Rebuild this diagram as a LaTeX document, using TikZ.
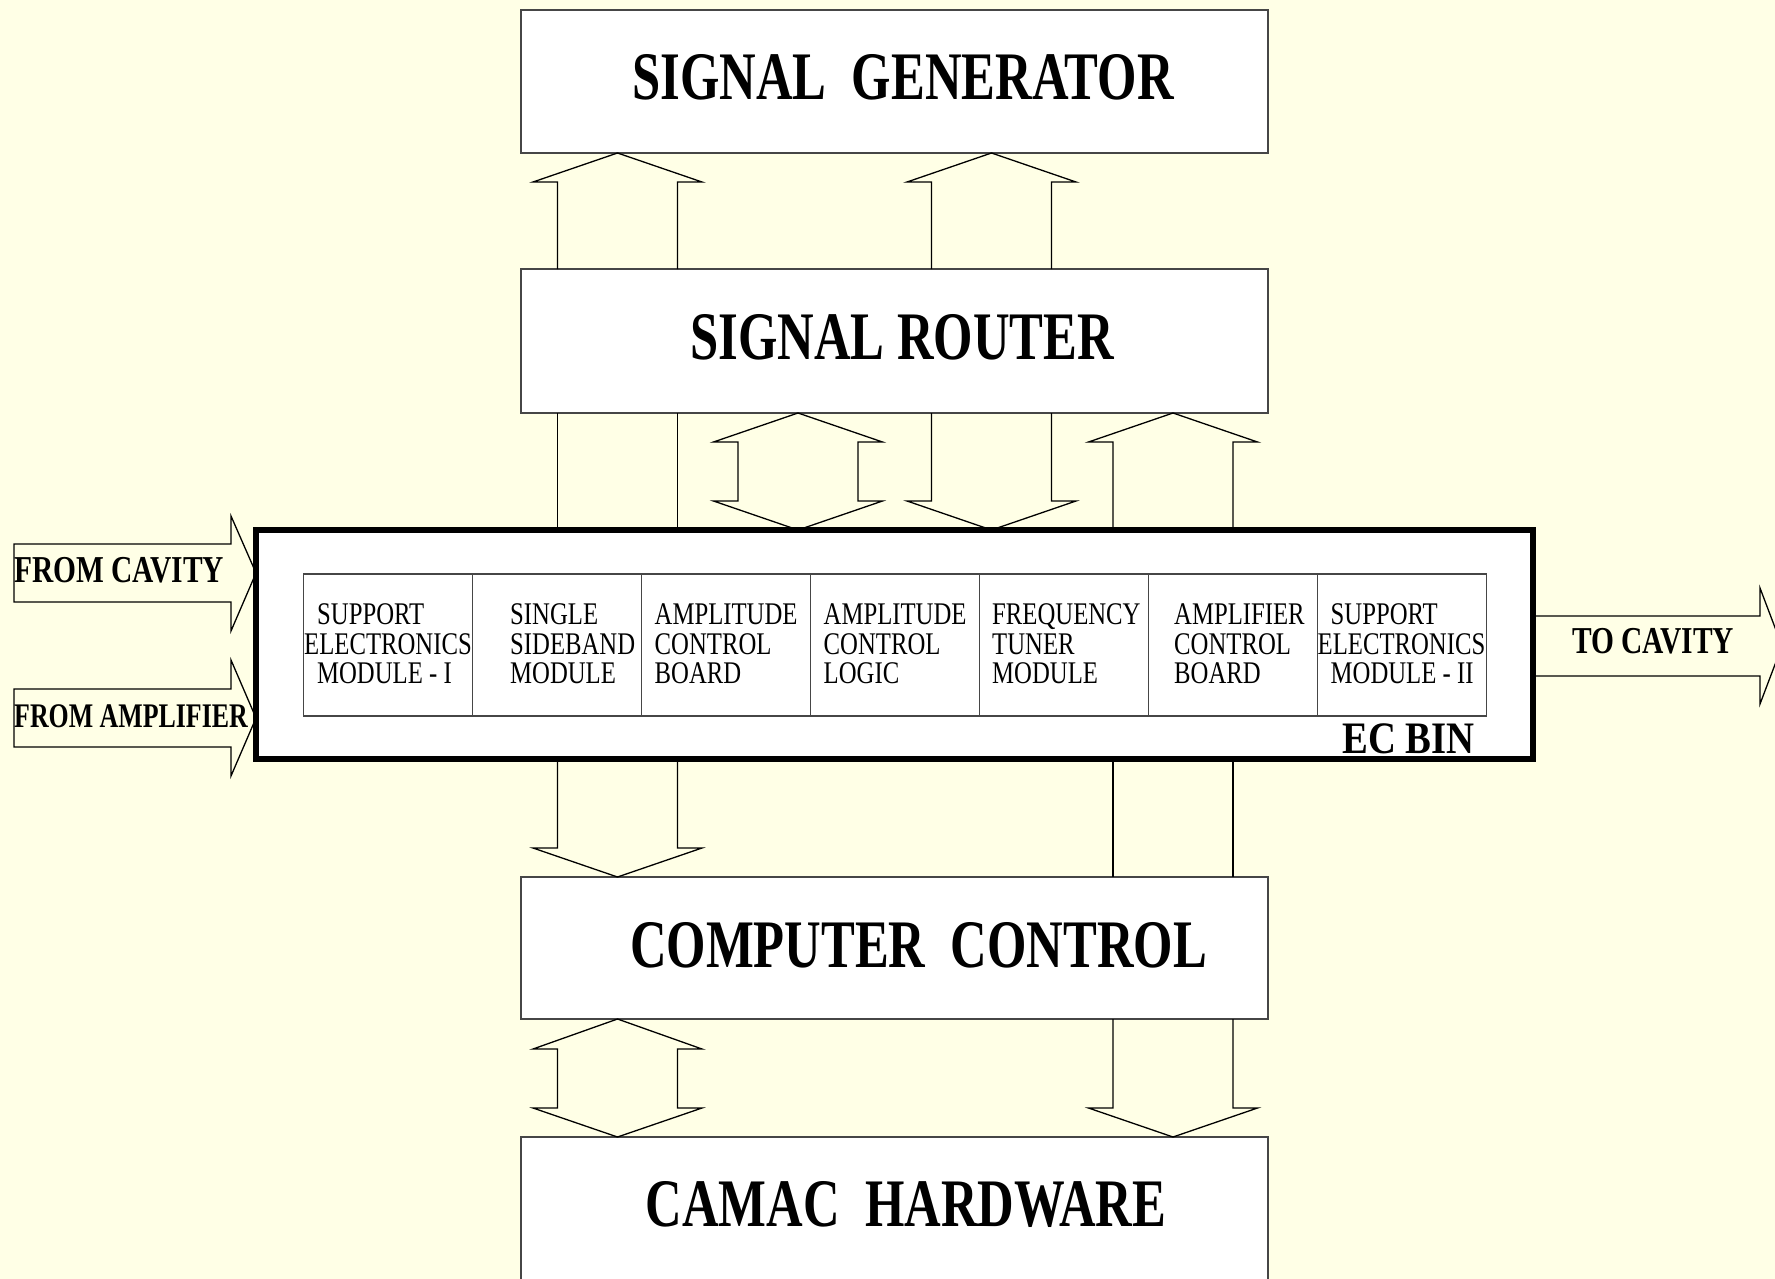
\documentclass[tikz,border=0pt]{standalone}
\usepackage{fontspec}
\setmainfont{Liberation Serif}
\usepackage{graphicx}
\definecolor{paper}{RGB}{255,255,230}
\definecolor{frame}{RGB}{70,70,70}
% horizontally condensed text
\newcommand{\squeeze}[2]{\scalebox{#1}[1]{#2}}
% stacked, left-aligned module captions (first baseline = node base)
\newcommand{\modlines}[1]{\scalebox{0.785}[1]{\begin{tabular}[t]{@{}l@{}}#1\end{tabular}}}
% single-headed block arrow: centre x, tip anchor, head-base y, tail anchor
\newcommand{\blockarr}[4]{%
  \draw[blockarrow] (#1-60,0 |- #4) -- (#1-60,#3) -- (#1-84.5,#3) -- (#1,0 |- #2)
    -- (#1+84.5,#3) -- (#1+60,#3) -- (#1+60,0 |- #4);}
% double-headed block arrow: centre x, upper tip anchor, upper head-base y, lower tip anchor, lower head-base y
\newcommand{\dblarr}[5]{%
  \draw[blockarrow] (#1-60,#3) -- (#1-84.5,#3) -- (#1,0 |- #2) -- (#1+84.5,#3) -- (#1+60,#3)
    -- (#1+60,#5) -- (#1+84.5,#5) -- (#1,0 |- #4) -- (#1-84.5,#5) -- (#1-60,#5) -- cycle;}

\begin{document}
\begin{tikzpicture}[x=1pt,y=-1pt,
  unit/.style={draw=frame, line width=1.6pt, fill=white, inner sep=0pt, outer sep=0pt, minimum width=747pt},
  module/.style={draw=frame, line width=1.5pt, fill=white, inner sep=0pt, outer sep=0pt, minimum width=169pt, minimum height=142pt},
  bin/.style={draw=black, line width=5.5pt, fill=white, inner sep=0pt, outer sep=0pt, minimum width=1277pt, minimum height=229pt},
  blockarrow/.style={draw=black, line width=1.3pt, line join=miter},
  title/.style={anchor=base, inner sep=0pt, font=\fontsize{68}{80}\selectfont\bfseries},
  modlabel/.style={anchor=base west, inner sep=0pt, font=\fontsize{31.5}{29.5}\selectfont},
  sidelabel/.style={anchor=base west, inner sep=0pt},
]
\useasboundingbox (0,0) rectangle (1775,1279);
\clip (0,0) rectangle (1775,1279);
\fill[paper] (0,0) rectangle (1775,1279);

% main units
\node[unit, minimum height=143pt] (sg) at (894.5,81.5) {};
\node[unit, minimum height=144pt] (sr) at (894.5,341) {};
\node[unit, minimum height=142pt] (cc) at (894.5,948) {};
\node[unit, minimum height=170pt] (camac) at (894.5,1222) {};

% EC bin with its modules
\node[bin] (ecbin) at (894.5,644.5) {};
\node[module] (m1) at (388,645) {};
\node[module] (m2) at (557,645) {};
\node[module] (m3) at (726,645) {};
\node[module] (m4) at (895,645) {};
\node[module] (m5) at (1064,645) {};
\node[module] (m6) at (1233,645) {};
\node[module] (m7) at (1402,645) {};

% unit titles
\node[title] (sgt) at (903,100) {\squeeze{0.745}{SIGNAL\ \ GENERATOR}};
\node[title] (srt) at (902,359) {\squeeze{0.745}{SIGNAL ROUTER}};
\node[title] (cct) at (918.5,967) {\squeeze{0.745}{COMPUTER\ \ CONTROL}};
\node[title] (camact) at (906,1226) {\squeeze{0.745}{CAMAC\ \ HARDWARE}};

% module captions
\node[modlabel] (m1t) at (304,624.5) {\modlines{\hspace*{16.5pt}SUPPORT\\ELECTRONICS\\\hspace*{16.5pt}MODULE - I}};
\node[modlabel] (m2t) at (510,624.5) {\modlines{SINGLE\\SIDEBAND\\MODULE}};
\node[modlabel] (m3t) at (654.5,624.5) {\modlines{AMPLITUDE\\CONTROL\\BOARD}};
\node[modlabel] (m4t) at (823.5,624.5) {\modlines{AMPLITUDE\\CONTROL\\LOGIC}};
\node[modlabel] (m5t) at (992,624.5) {\modlines{FREQUENCY\\TUNER\\MODULE}};
\node[modlabel] (m6t) at (1174,624.5) {\modlines{AMPLIFIER\\CONTROL\\BOARD}};
\node[modlabel] (m7t) at (1317.5,624.5) {\modlines{\hspace*{16.5pt}SUPPORT\\ELECTRONICS\\\hspace*{16.5pt}MODULE - II}};
\node[sidelabel, font=\fontsize{45}{50}\selectfont\bfseries] (bint) at (1342,753) {\squeeze{0.86}{EC BIN}};

% signal router -> signal generator
\blockarr{617.5}{sg.south}{182}{sr.north}
\blockarr{991.5}{sg.south}{182}{sr.north}

% signal router <-> EC bin
\draw[blockarrow] (557.5,0 |- sr.south) -- (557.5,0 |- ecbin.north);
\draw[blockarrow] (677.5,0 |- sr.south) -- (677.5,0 |- ecbin.north);
\dblarr{798}{sr.south}{442}{ecbin.north}{501}
\blockarr{991.5}{ecbin.north}{501}{sr.south}
\blockarr{1173}{sr.south}{442}{ecbin.north}

% EC bin -> computer control
\blockarr{617.5}{cc.north}{848}{ecbin.south}
\draw[blockarrow] (1113,0 |- ecbin.south) -- (1113,0 |- cc.north);
\draw[blockarrow] (1233,0 |- ecbin.south) -- (1233,0 |- cc.north);

% computer control <-> CAMAC hardware
\dblarr{617.5}{cc.south}{1049}{camac.north}{1108}
\blockarr{1173}{camac.north}{1108}{cc.south}

% external signals
\draw[blockarrow] (14,544) -- (231,544) -- (231,516) -- (ecbin.west |- 0,573)
  -- (231,631) -- (231,602) -- (14,602) -- cycle;
\draw[blockarrow] (14,689) -- (231,689) -- (231,660) -- (ecbin.west |- 0,718)
  -- (231,776) -- (231,747) -- (14,747) -- cycle;
\draw[blockarrow] (ecbin.east |- 0,616) -- (1760,616) -- (1760,588) -- (1782,646)
  -- (1760,704) -- (1760,676) -- (ecbin.east |- 0,676);

\node[sidelabel, font=\fontsize{38}{44}\selectfont\bfseries] (fct) at (14,582) {\squeeze{0.775}{FROM CAVITY}};
\node[sidelabel, font=\fontsize{34.5}{40}\selectfont\bfseries] (fat) at (14,727) {\squeeze{0.75}{FROM AMPLIFIER}};
\node[sidelabel, font=\fontsize{38}{44}\selectfont\bfseries] (tct) at (1572,653) {\squeeze{0.775}{TO CAVITY}};
\end{tikzpicture}
\end{document}
